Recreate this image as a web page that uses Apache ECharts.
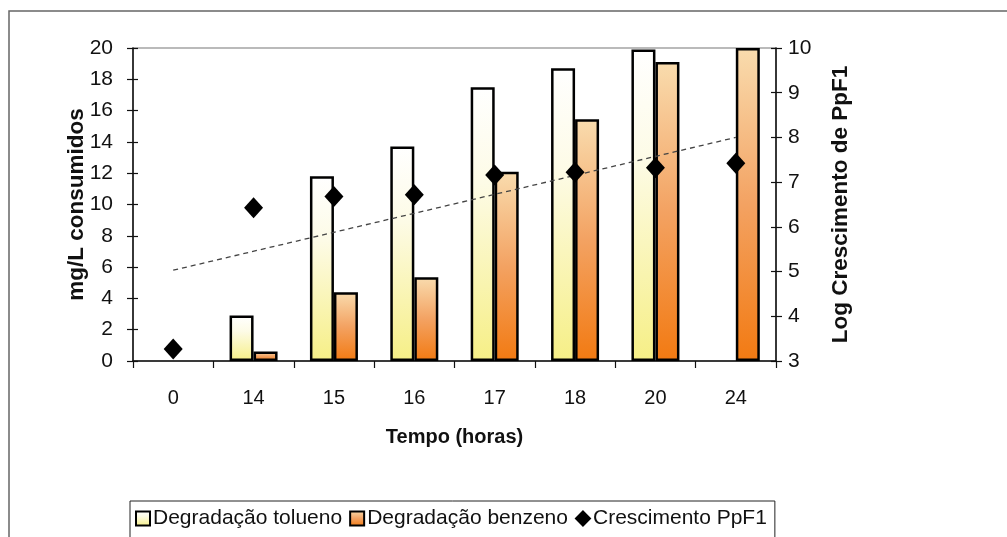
<!DOCTYPE html>
<html>
<head>
<meta charset="utf-8">
<script src="https://cdn.jsdelivr.net/npm/echarts@6/dist/echarts.min.js"></script>
<style>
html,body{margin:0;padding:0;background:#fff;}
#c{width:1007px;height:537px;}
</style>
</head>
<body>
<div id="c"></div>
<script>
// ---- data ----
var categories = ['0', '14', '15', '16', '17', '18', '20', '24'];
var tolueno = [null, 2.9, 11.8, 13.7, 17.5, 18.7, 19.9, null];
var benzeno = [null, 0.6, 4.4, 5.35, 12.1, 15.45, 19.1, 20];
var crescimento = [3.27, 6.43, 6.68, 6.72, 7.16, 7.22, 7.32, 7.42];
var trendEnds = [5.03, 8.0]; // linear trendline values at first and last category
var leftTicks = [0, 20, 2];   // min, max, interval
var rightTicks = [3, 10, 1];

var trendData = categories.map(function (c, i) {
  if (i === 0) return trendEnds[0];
  if (i === categories.length - 1) return trendEnds[1];
  return null;
});

var sans = "'Liberation Sans', Arial, sans-serif";

var gradTol = new echarts.graphic.LinearGradient(0, 0, 0, 1, [
  {offset: 0, color: '#ffffff'}, {offset: 0.35, color: '#fdfbe6'}, {offset: 1, color: '#f6ef86'}]);
var gradBen = new echarts.graphic.LinearGradient(0, 0, 0, 1, [
  {offset: 0, color: '#f9dcae'}, {offset: 0.5, color: '#f3a262'}, {offset: 1, color: '#f27a12'}]);

var nameStyle = {fontFamily: sans, fontSize: 22.5, fontWeight: 'bold', color: '#111'};

var chart = echarts.init(document.getElementById('c'), null, {renderer: 'canvas'});
chart.setOption({
  animation: false,
  backgroundColor: '#fff',
  graphic: [{
    type: 'rect', shape: {x: 9, y: 11, width: 1200, height: 700},
    style: {fill: 'none', stroke: '#666', lineWidth: 1.5}, z: -1
  }],
  grid: {left: 133, right: 231, top: 48, bottom: 176, show: true,
         borderColor: '#777', borderWidth: 1.2, backgroundColor: 'transparent'},
  legend: {
    data: [
      {name: 'Degradação tolueno', icon: 'rect'},
      {name: 'Degradação benzeno', icon: 'rect'},
      {name: 'Crescimento PpF1', icon: 'diamond'}
    ],
    left: 130, top: 501, orient: 'horizontal',
    borderColor: '#222', borderWidth: 1, padding: [7, 8, 20, 5],
    itemWidth: 14, itemHeight: 14, itemGap: 7,
    itemStyle: {borderColor: '#000', borderWidth: 2},
    textStyle: {fontFamily: sans, fontSize: 21, color: '#111', padding: [0, 0, 0, -2]}
  },
  xAxis: [{
    type: 'category', data: categories, position: 'bottom',
    name: 'Tempo (horas)', nameLocation: 'middle', nameGap: 66,
    nameTextStyle: {fontFamily: sans, fontSize: 20, fontWeight: 'bold', color: '#111'},
    axisLine: {lineStyle: {color: '#111', width: 1.5}},
    axisTick: {show: true, length: 7, alignWithLabel: false, lineStyle: {color: '#111', width: 1.2}},
    axisLabel: {fontFamily: sans, fontSize: 20, color: '#111', margin: 27},
    splitLine: {show: false}
  }],
  yAxis: [{
    type: 'value', position: 'left', min: leftTicks[0], max: leftTicks[1], interval: leftTicks[2],
    axisLine: {show: true, lineStyle: {color: '#111', width: 1.5}},
    axisTick: {show: true, length: 6, lineStyle: {color: '#111', width: 1.2}},
    axisLabel: {fontFamily: sans, fontSize: 21, color: '#111', margin: 20},
    splitLine: {show: false}
  }, {
    type: 'value', position: 'right', min: rightTicks[0], max: rightTicks[1], interval: rightTicks[2],
    axisLine: {show: true, lineStyle: {color: '#111', width: 1.5}},
    axisTick: {show: true, length: 6, lineStyle: {color: '#111', width: 1.2}},
    axisLabel: {fontFamily: sans, fontSize: 21, color: '#111', margin: 12},
    splitLine: {show: false}
  }, {
    type: 'value', position: 'left', min: leftTicks[0], max: leftTicks[1], interval: leftTicks[2],
    name: 'mg/L consumidos', nameLocation: 'middle', nameGap: 45, nameRotate: 90,
    nameTextStyle: nameStyle,
    axisLine: {show: false}, axisLabel: {show: false}, splitLine: {show: false},
    axisTick: {show: true, inside: true, length: 5, lineStyle: {color: '#111', width: 1.2}}
  }, {
    type: 'value', position: 'right', min: rightTicks[0], max: rightTicks[1], interval: rightTicks[2],
    name: 'Log Crescimento de PpF1', nameLocation: 'middle', nameGap: 53, nameRotate: 90,
    nameTextStyle: nameStyle,
    axisLine: {show: false}, axisLabel: {show: false}, splitLine: {show: false},
    axisTick: {show: true, inside: true, length: 5, lineStyle: {color: '#111', width: 1.2}}
  }],
  series: [{
    name: 'Degradação tolueno', type: 'bar', yAxisIndex: 0, data: tolueno,
    barWidth: 24, barGap: '0%',
    itemStyle: {color: gradTol, borderColor: '#000', borderWidth: 2.5}, z: 2
  }, {
    name: 'Degradação benzeno', type: 'bar', yAxisIndex: 0, data: benzeno,
    barWidth: 24, barGap: '0%',
    itemStyle: {color: gradBen, borderColor: '#000', borderWidth: 2.5}, z: 2
  }, {
    name: 'trend', type: 'line', yAxisIndex: 1, data: trendData, connectNulls: true,
    symbol: 'none', lineStyle: {color: '#444', width: 1.3, type: [5, 4]}, z: 3
  }, {
    name: 'Crescimento PpF1', type: 'scatter', yAxisIndex: 1, data: crescimento,
    symbol: 'diamond', symbolSize: [19, 21],
    itemStyle: {color: '#000', opacity: 1, borderWidth: 0}, z: 4
  }]
});
</script>
</body>
</html>
